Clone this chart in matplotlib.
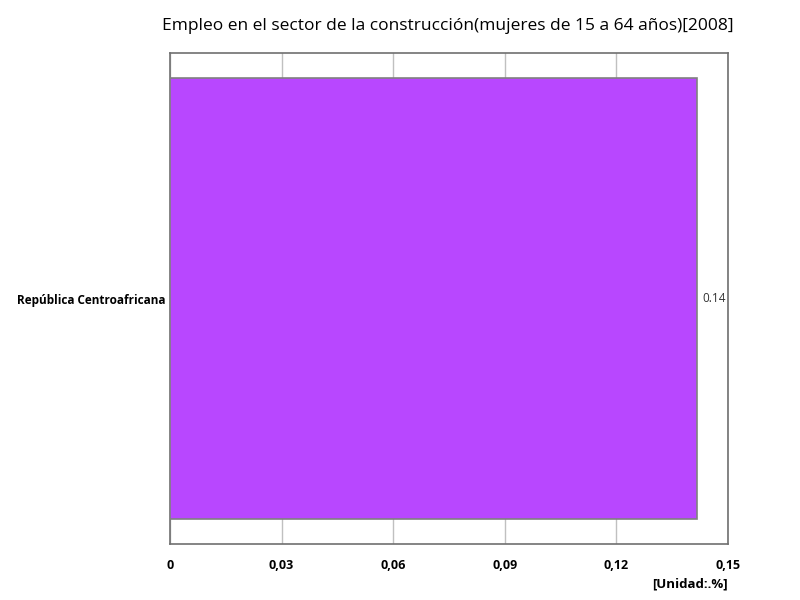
import matplotlib
matplotlib.use("Agg")
import matplotlib.pyplot as plt

plt.rcParams['font.family'] = ['Open Sans', 'DejaVu Sans']

categories = ["República Centroafricana"]
values = [0.1417]
value_labels = ["0.14"]
xticks = [0, 0.03, 0.06, 0.09, 0.12, 0.15]
xtick_labels = ["0", "0,03", "0,06", "0,09", "0,12", "0,15"]

fig = plt.figure(figsize=(8, 6), dpi=100)
ax = fig.add_axes([0.2125, 0.0933, 0.6975, 0.8183])

ax.barh(categories, values, height=0.9, color="#b847ff", edgecolor="#808080", linewidth=1.2, zorder=3)
for i, (v, lab) in enumerate(zip(values, value_labels)):
    ax.text(v + 0.0015, i, lab, va="center", ha="left", fontsize=8.5, color="#333333")

ax.set_xlim(0, 0.15)
ax.set_ylim(-0.5, 0.5)
ax.set_xticks(xticks)
ax.set_xticklabels(xtick_labels, fontsize=9, fontweight="bold")
ax.tick_params(axis="x", length=0, pad=11)
ax.tick_params(axis="y", length=0, pad=3)
for t in ax.get_yticklabels():
    t.set_fontsize(8.5)
    t.set_fontweight("bold")
ax.grid(axis="x", color="#c0c0c0", linewidth=1, zorder=0)
for s in ax.spines.values():
    s.set_color("#707070")
    s.set_linewidth(1.2)

fig.suptitle("Empleo en el sector de la construcción(mujeres de 15 a 64 años)[2008]",
             x=0.56, y=0.97, fontsize=12.5)
fig.text(0.91, 0.02, "[Unidad:.%]", ha="right", fontsize=9.5, fontweight="bold")

fig.savefig("out.png", dpi=100)
